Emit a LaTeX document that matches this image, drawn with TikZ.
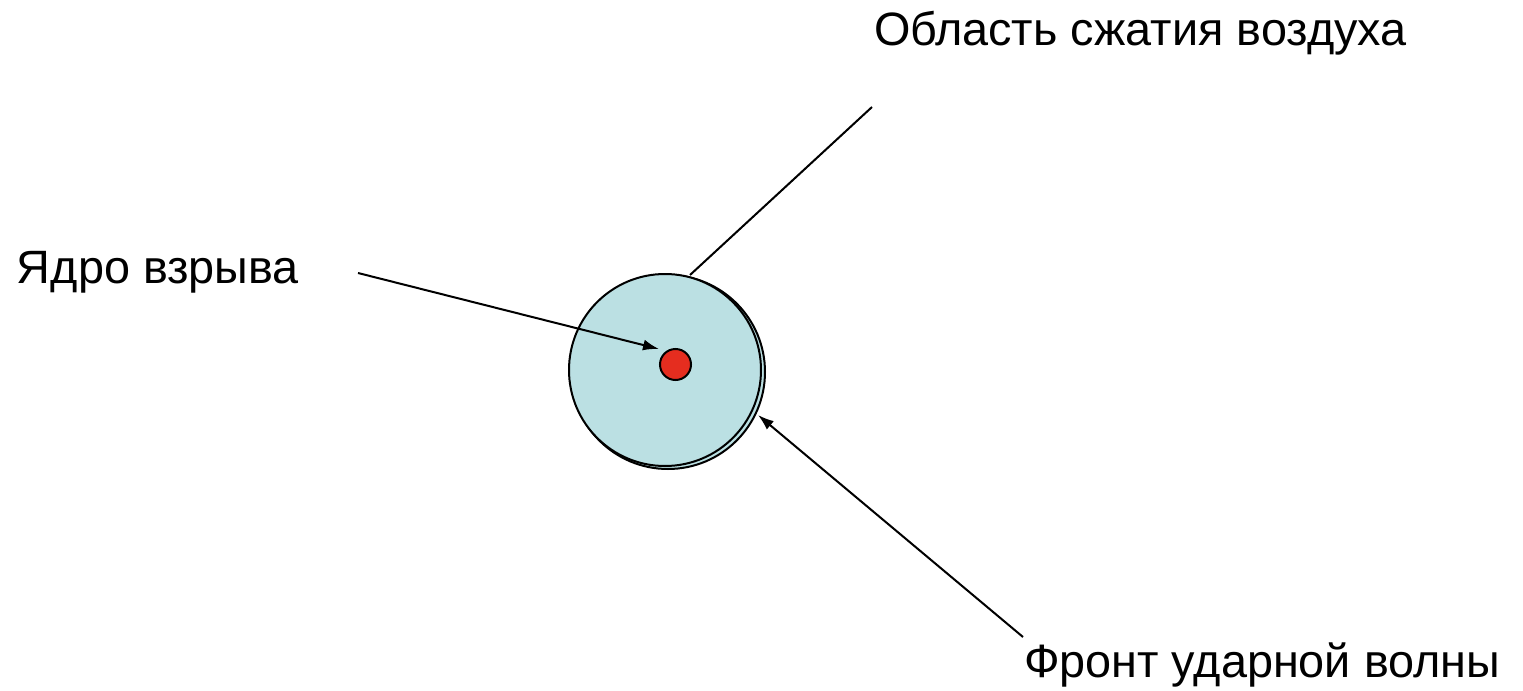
\documentclass[tikz,border=0pt]{standalone}
\usepackage{fontspec}
\setmainfont{Liberation Sans}
\usepackage{tikz}
\usetikzlibrary{arrows.meta}
\usepackage{tkz-euclide}
\usepackage{xcolor}
\definecolor{zoneblue}{RGB}{187,224,227}
\definecolor{corered}{RGB}{229,45,31}

\begin{document}
\begin{tikzpicture}[x=0.5pt, y=-0.5pt, line width=1pt,
    lbl/.style={anchor=base west, inner sep=0pt, font=\fontsize{23.4}{28}\selectfont}]
            \useasboundingbox (0,0) rectangle (1523,691);
            \tkzDefPoints{668/372/F, 665/370/Z, 675.5/364.5/C}
            \tkzDefPoints{358/273/S, 659/349/T, 690/275/U, 872/107/V, 1023/637/W, 758/415/R}
            % front and zone
            \filldraw[fill=zoneblue] (F) circle (97);
            \filldraw[fill=zoneblue] (Z) circle (96);
            \filldraw[fill=corered] (C) circle (15.5);
            \draw (U) -- (V);
            \draw[-{Latex[length=8pt, width=5.5pt]}] (S) -- (T);
            \draw[-{Latex[length=8pt, width=5.5pt]}] (W) -- (R);
            % labels
            \node[lbl] (core) at (16,283) {Ядро взрыва};
            \node[lbl] (zone) at (873,45) {Область сжатия воздуха};
            \node[lbl] (front) at (1023,677) {Фронт ударной волны};
        \end{tikzpicture}
\end{document}
